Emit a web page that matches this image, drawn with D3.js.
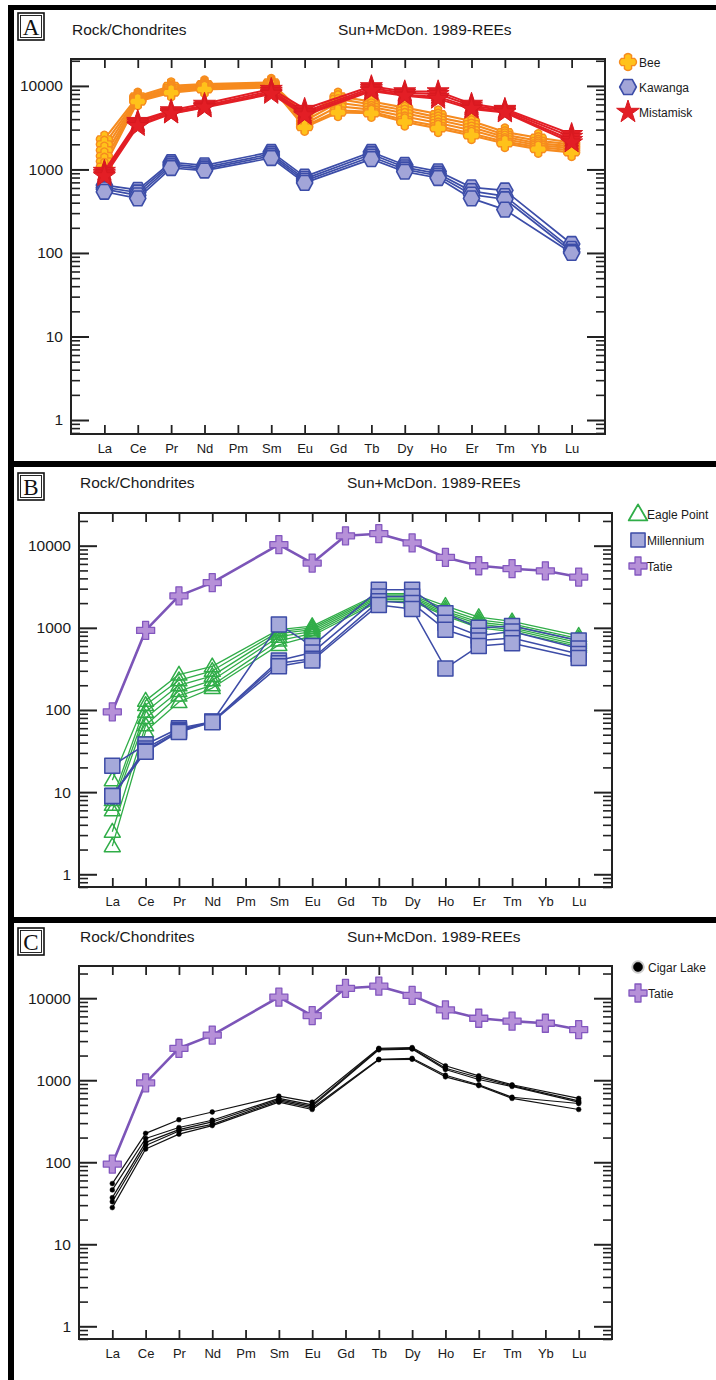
<!DOCTYPE html>
<html><head><meta charset="utf-8">
<script src="https://cdn.jsdelivr.net/npm/d3@7"></script>
<style>
html,body{margin:0;padding:0;background:#fff;}
svg{display:block;font-family:"Liberation Sans",Arial,sans-serif;}
</style></head><body><svg id="c" width="716" height="1380"></svg>
<script>
const N = null;
const elements = ["La","Ce","Pr","Nd","Pm","Sm","Eu","Gd","Tb","Dy","Ho","Er","Tm","Yb","Lu"];
const yTickLabels = ["1","10","100","1000","10000"];
const headerLeft = "Rock/Chondrites";
const headerRight = "Sun+McDon. 1989-REEs";

const beeSamples = [
 [2300,7500,10000,10500,N,11000,4500,7500,6500,5500,4600,3800,2800,2400,2100],
 [2000,7200,9500,10200,N,10600,4100,7000,6000,5100,4200,3500,2600,2200,2000],
 [1700,7000,9100,9900,N,10300,3800,6300,5600,4700,3900,3200,2450,2050,1900],
 [1450,6800,8800,9600,N,10000,3500,5700,5200,4300,3600,2950,2300,1950,1800],
 [1250,6600,8500,9300,N,9800,3300,5100,4900,3900,3300,2700,2150,1850,1700],
 [1080,6500,8300,9100,N,9600,3200,4800,4700,3700,3100,2550,2050,1750,1600]
];
const kawangaSamples = [
 [650,570,1220,1120,N,1620,820,N,1620,1130,950,610,560,N,128],
 [610,530,1160,1060,N,1530,770,N,1520,1060,890,550,480,N,112],
 [580,490,1100,1010,N,1450,730,N,1420,1000,840,500,440,N,104],
 [540,450,1040,970,N,1370,690,N,1330,940,790,450,330,N,100]
];
const mistamiskSamples = [
 [960,3800,5100,6100,N,9200,5300,N,9900,8600,8600,6100,5300,N,2650],
 [910,3650,4900,5800,N,8700,4900,N,9400,8200,8000,5800,5100,N,2450],
 [870,3450,4700,5600,N,8300,4650,N,9000,7800,7400,5500,4900,N,2250],
 [830,3300,4650,5500,N,8000,4450,N,8700,7600,7000,5300,4800,N,2100]
];
const eaglePointSamples = [
 [14,130,270,340,N,950,1050,N,2600,2600,1850,1350,1200,N,800],
 [8,115,230,300,N,900,1000,N,2500,2500,1700,1250,1120,N,740],
 [7,95,200,260,N,850,950,N,2400,2400,1600,1170,1060,N,700],
 [6,80,170,230,N,780,900,N,2300,2300,1520,1110,1000,N,660],
 [3.3,65,150,200,N,700,850,N,2200,2200,1450,1050,950,N,620],
 [2.2,55,125,185,N,620,800,N,2100,2100,1400,1000,900,N,590]
];
const millenniumSamples = [
 [21,38,60,72,N,1100,600,N,2900,2900,1500,1000,1050,N,700],
 [9,34,57,72,N,400,500,N,2400,2400,1150,800,900,N,560],
 [9,32,55,72,N,370,420,N,2100,2000,950,700,750,N,480],
 [9,31,54,71,N,340,400,N,1900,1700,320,600,650,N,430]
];
const tatieSamples = [
 [95,930,2450,3550,N,10300,6150,13200,14000,10800,7200,5700,5250,4950,4150]
];
const cigarLakeSamples = [
 [55,225,330,410,N,640,540,N,2450,2500,1500,1130,880,N,600],
 [46,195,265,325,N,600,500,N,2400,2450,1400,1080,860,N,560],
 [37,175,250,310,N,580,480,N,2350,2400,1350,1020,840,N,540],
 [33,160,240,290,N,560,460,N,1800,1850,1150,880,620,N,520],
 [28,145,220,280,N,540,440,N,1780,1800,1100,860,600,N,440]
];

const hexagon = { draw(ctx, size){ const r = Math.sqrt(size/2.598);
  for(let k=0;k<6;k++){ const a=k*Math.PI/3; const px=r*Math.cos(a), py=r*Math.sin(a)*1.05; if(k) ctx.lineTo(px,py); else ctx.moveTo(px,py);} ctx.closePath(); } };
const triangle = { draw(ctx,size){ const s=Math.sqrt(size*4/Math.sqrt(3)); const h=s*Math.sqrt(3)/2;
  ctx.moveTo(0,-h*0.6); ctx.lineTo(s/2,h*0.4); ctx.lineTo(-s/2,h*0.4); ctx.closePath(); } };
// rounded four-armed cross (Bee marker)
const fatCross = { draw(ctx,size){ const R=Math.sqrt(size)*0.62, w=R*0.42, c=R*0.22;
  ctx.moveTo(-w,-R+c); ctx.quadraticCurveTo(0,-R-c,w,-R+c); ctx.lineTo(w,-w);
  ctx.lineTo(R-c,-w); ctx.quadraticCurveTo(R+c,0,R-c,w); ctx.lineTo(w,w);
  ctx.lineTo(w,R-c); ctx.quadraticCurveTo(0,R+c,-w,R-c); ctx.lineTo(-w,w);
  ctx.lineTo(-R+c,w); ctx.quadraticCurveTo(-R-c,0,-R+c,-w); ctx.lineTo(-w,-w); ctx.closePath(); } };

const styles = {
 "Bee":{type:fatCross,size:170,lsize:190,fill:"#FFC21A",stroke:"#F68B1F",sw:1.4,line:"#F68B1F",lw:2.1},
 "Kawanga":{type:hexagon,size:170,lsize:180,fill:"#A2A5D8",stroke:"#3C4DA8",sw:1.6,line:"#3C4DA8",lw:1.7},
 "Mistamisk":{type:d3.symbolStar,size:150,lsize:160,fill:"#E31E25",stroke:"#D81920",sw:1,line:"#E31E25",lw:2},
 "Eagle Point":{type:triangle,size:110,lsize:150,fill:"none",stroke:"#30AD48",sw:1.5,line:"#30AD48",lw:1.3},
 "Millennium":{type:d3.symbolSquare,size:225,lsize:200,fill:"#A5A9DA",stroke:"#3D4CA7",sw:1.5,line:"#3D4CA7",lw:1.5},
 "Tatie":{type:d3.symbolCross,size:180,lsize:180,fill:"#B690D8",stroke:"#8357BF",sw:1.3,line:"#7C55B8",lw:2.6},
 "Cigar Lake":{type:d3.symbolCircle,size:18,lsize:70,fill:"#000",stroke:"#000",sw:0.5,line:"#111",lw:1.2}
};

const panels = [
 {letter:"A",left:71,right:605,top:59,bottom:434,yDomain:[0.68,21000],box:[18,13],hy:35,hx1:72,hx2:338,
  lx:628,ltx:639,ly:62,lstep:25,
  series:[["Bee",beeSamples],["Kawanga",kawangaSamples],["Mistamisk",mistamiskSamples]]},
 {letter:"B",left:79,right:612,top:513,bottom:887,yDomain:[0.70,25000],box:[18,473],hy:488,hx1:80,hx2:347,
  lx:638,ltx:647,ly:514,lstep:26,
  series:[["Eagle Point",eaglePointSamples],["Millennium",millenniumSamples],["Tatie",tatieSamples]]},
 {letter:"C",left:79,right:612,top:966,bottom:1339,yDomain:[0.70,24700],box:[18,928],hy:942,hx1:80,hx2:347,
  lx:638,ltx:648,ly:967,lstep:26,
  series:[["Cigar Lake",cigarLakeSamples],["Tatie",tatieSamples]]}
];

const svg = d3.select("#c");
svg.append("rect").attr("width",716).attr("height",1380).attr("fill","#fff");

function styleAxis(sel, w){
  sel.attr("font-family",null).attr("font-size",null);
  sel.select(".domain").remove();
  sel.selectAll(".tick line").attr("stroke","#222").attr("stroke-width",w);
  sel.selectAll(".tick text").attr("fill","#1a1a1a");
}

function drawPanel(p){
  const g = svg.append("g");
  const x = d3.scaleLinear().domain([0, elements.length+1]).range([p.left,p.right]);
  const y = d3.scaleLog().domain(p.yDomain).range([p.bottom,p.top]);
  const majors = yTickLabels.map(Number);
  const minors = [];
  for(let e=-1;e<=4;e++) for(let m=2;m<=9;m++){ const v=+(m*Math.pow(10,e)).toPrecision(3); if(v>=p.yDomain[0]&&v<=p.yDomain[1]) minors.push(v); }
  const xIdx = elements.map((d,i)=>i+1);

  g.append("g").attr("transform",`translate(0,${p.bottom})`)
   .call(d3.axisBottom(x).tickValues(xIdx).tickFormat(i=>elements[i-1]).tickSize(-9).tickPadding(9.5))
   .call(s=>styleAxis(s,1.8)).selectAll(".tick text").attr("font-size",13);
  g.append("g").attr("transform",`translate(0,${p.top})`)
   .call(d3.axisTop(x).tickValues(xIdx).tickFormat("").tickSize(-9)).call(s=>styleAxis(s,1.8));
  g.append("g").attr("transform",`translate(${p.left},0)`)
   .call(d3.axisLeft(y).tickValues(majors).tickFormat((d,i)=>yTickLabels[i]).tickSize(-18).tickPadding(8))
   .call(s=>styleAxis(s,2)).selectAll(".tick text").attr("font-size",15.5);
  g.append("g").attr("transform",`translate(${p.left},0)`)
   .call(d3.axisLeft(y).tickValues(minors).tickFormat("").tickSize(-9)).call(s=>styleAxis(s,1.6));
  g.append("g").attr("transform",`translate(${p.right},0)`)
   .call(d3.axisRight(y).tickValues(majors).tickFormat("").tickSize(-18)).call(s=>styleAxis(s,2));
  g.append("g").attr("transform",`translate(${p.right},0)`)
   .call(d3.axisRight(y).tickValues(minors).tickFormat("").tickSize(-9)).call(s=>styleAxis(s,1.6));
  g.append("rect").attr("x",p.left).attr("y",p.top).attr("width",p.right-p.left).attr("height",p.bottom-p.top)
   .attr("fill","none").attr("stroke","#222").attr("stroke-width",2);

  const line = d3.line().x(d=>x(d.i+1)).y(d=>y(d.v));
  p.series.forEach(([name,samples])=>{
    const st = styles[name];
    const sg = g.append("g");
    const pts = samples.map(s=>s.map((v,i)=>({i,v})).filter(d=>d.v!=null));
    sg.selectAll("path.l").data(pts).join("path").attr("class","l").attr("d",line)
      .attr("fill","none").attr("stroke",st.line).attr("stroke-width",st.lw).attr("stroke-linejoin","round");
    const sym = d3.symbol().type(st.type).size(st.size);
    sg.selectAll("path.m").data(pts.flat()).join("path").attr("class","m")
      .attr("transform",d=>`translate(${x(d.i+1)},${y(d.v)})`).attr("d",sym)
      .attr("fill",st.fill).attr("stroke",st.stroke).attr("stroke-width",st.sw).attr("stroke-linejoin","round");
  });

  p.series.forEach(([name],k)=>{
    const st = styles[name];
    const ly = p.ly + k*p.lstep;
    const sym = d3.symbol().type(st.type).size(st.lsize);
    if(name==="Cigar Lake"){
      g.append("circle").attr("cx",p.lx).attr("cy",ly).attr("r",6).attr("fill","none").attr("stroke","#ccc").attr("stroke-width",1.5);
    }
    g.append("path").attr("transform",`translate(${p.lx},${ly})`).attr("d",sym)
     .attr("fill",st.fill).attr("stroke",st.stroke).attr("stroke-width",name==="Eagle Point"?1.8:st.sw).attr("stroke-linejoin","round");
    g.append("text").attr("x",p.ltx).attr("y",ly+4.5).attr("font-size",12).attr("fill","#1a1a1a").text(name);
  });

  g.append("text").attr("x",p.hx1).attr("y",p.hy).attr("font-size",15.5).attr("fill","#1a1a1a").text(headerLeft);
  g.append("text").attr("x",p.hx2).attr("y",p.hy).attr("font-size",15.5).attr("fill","#1a1a1a").text(headerRight);

  const [bx,by] = p.box;
  g.append("rect").attr("x",bx).attr("y",by).attr("width",26).attr("height",27).attr("fill","#fff").attr("stroke","#111").attr("stroke-width",1.6);
  g.append("rect").attr("x",bx+2.5).attr("y",by+2.5).attr("width",21).attr("height",22).attr("fill","none").attr("stroke","#111").attr("stroke-width",0.9);
  g.append("text").attr("x",bx+13).attr("y",by+21.5).attr("text-anchor","middle")
   .attr("font-family","'Liberation Serif','Times New Roman',serif").attr("font-size",23).attr("fill","#111").text(p.letter);
}

panels.forEach(drawPanel);

const frame = svg.append("g").attr("fill","#000");
frame.append("rect").attr("x",8).attr("y",5).attr("width",708).attr("height",5);
frame.append("rect").attr("x",8).attr("y",5).attr("width",6).attr("height",1375);
frame.append("rect").attr("x",8).attr("y",461).attr("width",708).attr("height",6);
frame.append("rect").attr("x",8).attr("y",917).attr("width",708).attr("height",6);
</script></body></html>
